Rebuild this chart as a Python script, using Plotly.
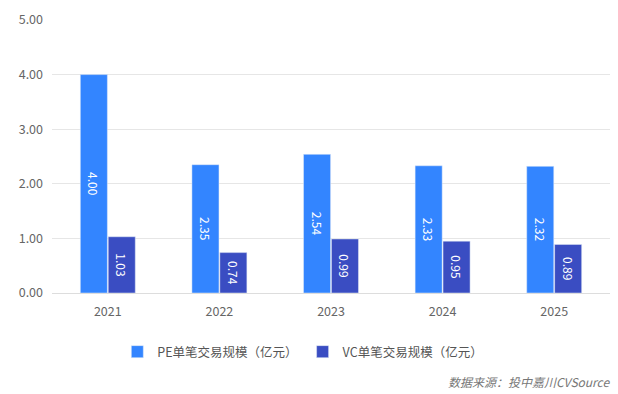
import plotly.graph_objects as go

years = ["2021", "2022", "2023", "2024", "2025"]
pe_values = [4.00, 2.35, 2.54, 2.33, 2.32]
vc_values = [1.03, 0.74, 0.99, 0.95, 0.89]
pe_name = "PE单笔交易规模（亿元）"
vc_name = "VC单笔交易规模（亿元）"
source_text = "数据来源：投中嘉川CVSource"

FONT = "Noto Sans CJK SC"
W, H = 618, 394
ML, MR, MT, MB = 52, 8, 20, 101
PW, PH = W - ML - MR, H - MT - MB

fig = go.Figure()
fig.add_trace(go.Bar(
    x=years, y=pe_values, name=pe_name, marker_color="#3385FF",
    text=[f"{v:.2f}" for v in pe_values], textposition="inside",
    insidetextanchor="middle", textangle=90,
    textfont=dict(color="white", size=12, family=FONT),
))
fig.add_trace(go.Bar(
    x=years, y=vc_values, name=vc_name, marker_color="#3A4DC2",
    text=[f"{v:.2f}" for v in vc_values], textposition="inside",
    insidetextanchor="middle", textangle=90,
    textfont=dict(color="white", size=12, family=FONT),
))

fig.update_layout(
    width=W, height=H,
    margin=dict(l=ML, r=MR, t=MT, b=MB, autoexpand=False),
    paper_bgcolor="white", plot_bgcolor="white",
    font=dict(family=FONT, size=12, color="#666666"),
    barmode="group", bargap=0.5, bargroupgap=0.03,
    showlegend=True,
    legend=dict(orientation="h", x=0.49, xref="container", xanchor="center",
                y=1 - 352 / H, yref="container", yanchor="middle",
                font=dict(size=12.5, color="#555555"), itemwidth=30,
                tracegroupgap=0),
    uniformtext=dict(minsize=8, mode="show"),
)
fig.update_yaxes(range=[0, 5], dtick=1, tickformat=".2f", showgrid=True,
                 gridcolor="#e6e6e6", zeroline=False, showline=False,
                 ticks="", ticklabelstandoff=8,
                 tickfont=dict(size=12.5, color="#666666"))
fig.update_xaxes(showline=True, linecolor="#dddddd", ticks="",
                 ticklabelstandoff=7,
                 tickfont=dict(size=12.5, color="#666666"))

fig.add_annotation(text=source_text, xref="paper", yref="paper",
                   x=(W - 6 - ML) / PW, y=(H - MB - 381) / PH,
                   xanchor="right", yanchor="middle", showarrow=False,
                   font=dict(size=12, color="#777777", family=FONT, style="italic"))

fig.write_html("out.html", config={"displayModeBar": False},
               post_script="document.body.style.margin='0';")
